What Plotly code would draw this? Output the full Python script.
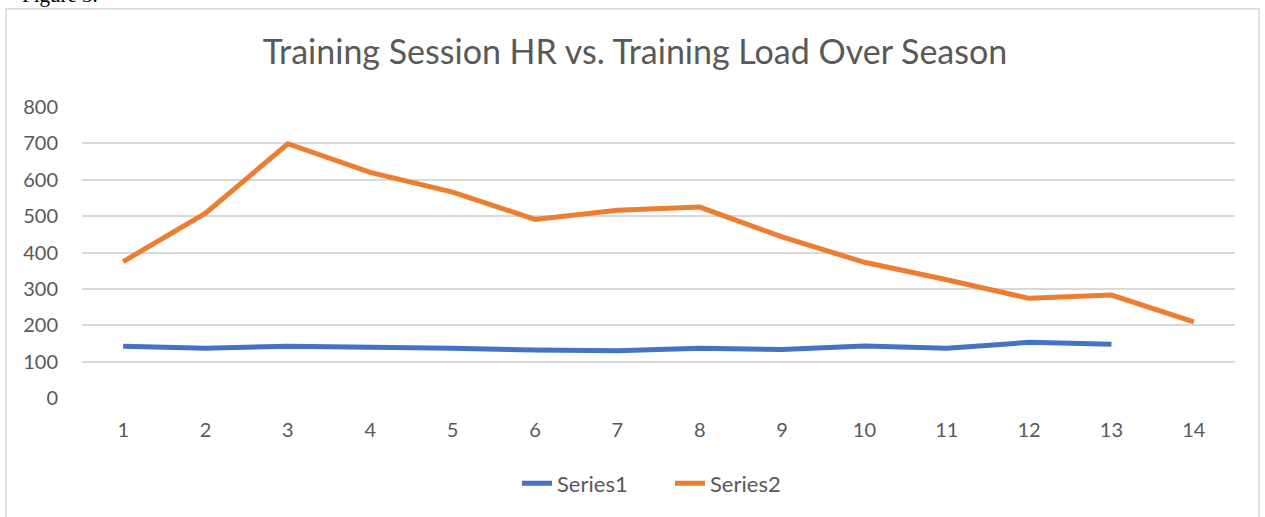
import plotly.graph_objects as go

sessions = [str(i) for i in range(1, 15)]
series1 = [142, 137, 142, 140, 137, 132, 130, 137, 133, 143, 137, 153, 148, None]
series2 = [375, 508, 699, 620, 566, 491, 516, 525, 443, 373, 325, 274, 283, 209]
y_ticks = [0, 100, 200, 300, 400, 500, 600, 700, 800]

W, H = 1265, 517
L, R, T, B = 82, 30, 107, 117
pw, ph = W - L - R, H - T - B

def px_x(x):
    return (x - L) / pw

def px_y(y):
    return (H - B - y) / ph

FONT = "Lato"
TXT = "#595959"

fig = go.Figure()
fig.add_trace(go.Scatter(x=sessions, y=series1, mode="lines", name="Series1",
                         line=dict(color="#4472C4", width=5), connectgaps=False))
fig.add_trace(go.Scatter(x=sessions, y=series2, mode="lines", name="Series2",
                         line=dict(color="#ED7D31", width=5)))

fig.update_layout(
    width=W, height=H,
    margin=dict(l=L, r=R, t=T, b=B),
    paper_bgcolor="white", plot_bgcolor="white",
    title=dict(text="Training Session HR vs. Training Load Over Season",
               x=635 / W, xanchor="center", y=1 - 52 / H, yanchor="middle",
               font=dict(family=FONT, size=34, color=TXT)),
    showlegend=True,
    legend=dict(orientation="h", x=px_x(517), xanchor="left",
                y=px_y(486), yanchor="middle",
                entrywidth=108,
                font=dict(family=FONT, size=22, color=TXT),
                bgcolor="rgba(0,0,0,0)"),
    xaxis=dict(type="category", range=[-0.5, 13.5], showgrid=False,
               showline=False, zeroline=False, ticks="",
               tickfont=dict(family=FONT, size=20, color=TXT),
               ticklabelstandoff=18),
    yaxis=dict(range=[0, 800], tickvals=y_ticks, showgrid=True,
               gridcolor="#D9D9D9", gridwidth=1.5, zeroline=False,
               showline=False, ticks="",
               tickfont=dict(family=FONT, size=20, color=TXT),
               ticklabelstandoff=23),
    shapes=[dict(type="rect", xref="paper", yref="paper",
                 x0=px_x(6), x1=px_x(1259), y0=px_y(530), y1=px_y(8),
                 line=dict(color="#D9D9D9", width=1.5), fillcolor="rgba(0,0,0,0)",
                 layer="below")],
    annotations=[dict(text="Figure 3.", xref="paper", yref="paper",
                      x=px_x(20), xanchor="left", y=px_y(-6), yanchor="middle",
                      showarrow=False,
                      font=dict(family="Liberation Serif", size=21, color="black"))],
)

fig.write_html("out.html", config={"displayModeBar": False},
               post_script="document.body.style.margin='0';")
